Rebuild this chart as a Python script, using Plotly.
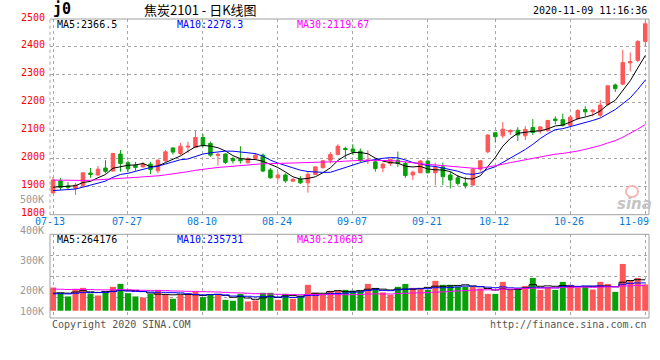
import plotly.graph_objects as go

# ---------------- data ----------------
dates = [
    "2020-07-13", "2020-07-14", "2020-07-15", "2020-07-16", "2020-07-17",
    "2020-07-20", "2020-07-21", "2020-07-22", "2020-07-23", "2020-07-24",
    "2020-07-27", "2020-07-28", "2020-07-29", "2020-07-30", "2020-07-31",
    "2020-08-03", "2020-08-04", "2020-08-05", "2020-08-06", "2020-08-07",
    "2020-08-10", "2020-08-11", "2020-08-12", "2020-08-13", "2020-08-14",
    "2020-08-17", "2020-08-18", "2020-08-19", "2020-08-20", "2020-08-21",
    "2020-08-24", "2020-08-25", "2020-08-26", "2020-08-27", "2020-08-28",
    "2020-08-31", "2020-09-01", "2020-09-02", "2020-09-03", "2020-09-04",
    "2020-09-07", "2020-09-08", "2020-09-09", "2020-09-10", "2020-09-11",
    "2020-09-14", "2020-09-15", "2020-09-16", "2020-09-17", "2020-09-18",
    "2020-09-21", "2020-09-22", "2020-09-23", "2020-09-24", "2020-09-25",
    "2020-09-28", "2020-09-29", "2020-09-30", "2020-10-09",
    "2020-10-12", "2020-10-13", "2020-10-14", "2020-10-15", "2020-10-16",
    "2020-10-19", "2020-10-20", "2020-10-21", "2020-10-22", "2020-10-23",
    "2020-10-26", "2020-10-27", "2020-10-28", "2020-10-29", "2020-10-30",
    "2020-11-02", "2020-11-03", "2020-11-04", "2020-11-05", "2020-11-06",
    "2020-11-09",
]

opens = [1878, 1921, 1903, 1894, 1905, 1949, 1942, 1967, 1956, 2017,
         1986, 1977, 1971, 1981, 1957, 1993, 2039, 2019, 2042, 2040,
         2076, 2055, 2012, 2017, 2001, 1998, 1986, 2001, 2013, 1960,
         1932, 1942, 1920, 1927, 1914, 1944, 1968, 1995, 2015, 2037,
         2035, 2027, 1992, 1989, 1967, 1983, 1995, 1983, 1942, 1950,
         1992, 1950, 1971, 1942, 1932, 1913, 1906, 1963, 2025, 2093,
         2082, 2096, 2102, 2082, 2112, 2100, 2101, 2142, 2140, 2120,
         2144, 2176, 2168, 2156, 2194, 2264, 2267, 2343, 2352, 2420]
highs = [1935, 1931, 1917, 1914, 1950, 1967, 1974, 1995, 2021, 2031,
         1993, 1989, 1989, 1989, 1998, 2031, 2040, 2057, 2061, 2102,
         2088, 2061, 2021, 2019, 2007, 2045, 2007, 2021, 2019, 1967,
         1954, 1948, 1930, 1938, 1954, 1973, 1995, 2024, 2052, 2043,
         2052, 2037, 2031, 1995, 1986, 2001, 2026, 1989, 1958, 1995,
         1995, 1986, 1986, 1954, 1942, 1936, 1968, 1995, 2087, 2096,
         2132, 2106, 2113, 2117, 2142, 2117, 2139, 2152, 2162, 2156,
         2177, 2188, 2177, 2210, 2263, 2269, 2390, 2380, 2424, 2492]
lows = [1876, 1888, 1888, 1871, 1900, 1932, 1938, 1948, 1954, 1954,
        1952, 1957, 1969, 1945, 1948, 1989, 2015, 2013, 2021, 2038,
        2040, 2007, 1976, 1981, 1983, 1983, 1983, 1995, 1952, 1929,
        1921, 1914, 1917, 1910, 1879, 1942, 1965, 1983, 2013, 2001,
        2013, 1988, 1981, 1954, 1952, 1974, 1971, 1932, 1924, 1948,
        1948, 1905, 1906, 1894, 1904, 1894, 1904, 1954, 2019, 2058,
        2073, 2085, 2063, 2067, 2085, 2090, 2096, 2123, 2115, 2115,
        2138, 2152, 2152, 2149, 2189, 2239, 2263, 2313, 2346, 2404]
closes = [1924, 1898, 1898, 1906, 1950, 1944, 1963, 1955, 2019, 1983,
          1964, 1969, 1981, 1962, 1995, 2025, 2024, 2045, 2045, 2076,
          2048, 2013, 2016, 1987, 1993, 1993, 2001, 2013, 1956, 1932,
          1942, 1921, 1927, 1914, 1945, 1971, 1993, 2015, 2045, 2033,
          2025, 1993, 1995, 1965, 1981, 1998, 1983, 1940, 1952, 1992,
          1950, 1969, 1936, 1924, 1912, 1904, 1963, 1993, 2085, 2079,
          2106, 2101, 2085, 2105, 2094, 2114, 2137, 2137, 2120, 2149,
          2173, 2168, 2174, 2192, 2261, 2251, 2344, 2348, 2420, 2483]
volumes = [198000, 153000, 122000, 187000, 195000, 147000, 130000, 158000, 204000, 229000,
           150000, 122000, 113000, 144000, 178000, 142000, 102000, 136000, 136000, 164000,
           116000, 139000, 142000, 93000, 85000, 144000, 79000, 88000, 153000, 153000,
           93000, 144000, 102000, 127000, 221000, 153000, 142000, 170000, 170000, 178000,
           170000, 170000, 229000, 195000, 156000, 136000, 204000, 229000, 195000, 190000,
           178000, 255000, 221000, 221000, 204000, 204000, 204000, 190000, 144000, 144000,
           246000, 178000, 195000, 212000, 280000, 178000, 195000, 178000, 246000, 221000,
           195000, 204000, 181000, 246000, 229000, 161000, 399000, 255000, 280000, 224000]

# moving-average levels before the first visible day
price_ma_seed = {5: 1892, 10: 1882, 30: 1924}
volume_ma_seed = {5: 138000, 10: 138000, 30: 184000}

tick_dates = ["2020-07-13", "2020-07-27", "2020-08-10", "2020-08-24", "2020-09-07",
              "2020-09-21", "2020-10-12", "2020-10-26", "2020-11-09"]
tick_labels = ["07-13", "07-27", "08-10", "08-24", "09-07", "09-21", "10-12", "10-26", "11-09"]
price_ticks = [1800, 1900, 2000, 2100, 2200, 2300, 2400, 2500]
volume_labels = ["500K", "400K", "300K", "200K", "100K"]

title_text = "焦炭2101 - 日K线图"
symbol_text = "j0"
time_text = "2020-11-09 11:16:36"
price_legend = ["MA5:2366.5", "MA10:2278.3", "MA30:2119.67"]
volume_legend = ["MA5:264176", "MA10:235731", "MA30:210603"]
footer_left = "Copyright 2020 SINA.COM"
footer_right = "http://finance.sina.com.cn"


def moving_avg(vals, n, seed):
    out = []
    for i in range(len(vals)):
        w = vals[max(0, i - n + 1): i + 1]
        out.append((sum(w) + (n - len(w)) * seed) / n)
    return out


# ---------------- style / layout ----------------
W, H = 660, 360
ML, MR, MT, MB = 50, 11, 19, 42
PW, PH = W - ML - MR, H - MT - MB
MONO = "DejaVu Sans Mono"
UP = "#ff5757"
DN = "#08a008"
MA_COLORS = {5: "#000000", 10: "#0000ff", 30: "#ff00ff"}
GRID = "#a8a8a8"
BORDER = "#a0a0a0"


def py(p):  # screen pixel y -> paper y
    return (H - MB - p) / PH


def px(p):  # screen pixel x -> paper x
    return (p - ML) / PW


price_dom = [py(214.7), 1.0]
vol_dom = [0.0, py(234.3)]

fig = go.Figure()

fig.add_trace(go.Candlestick(
    x=dates, open=opens, high=highs, low=lows, close=closes,
    increasing=dict(line=dict(color=UP, width=1), fillcolor=UP),
    decreasing=dict(line=dict(color=DN, width=1), fillcolor=DN),
    whiskerwidth=0, xaxis="x", yaxis="y", showlegend=False, hoverinfo="skip",
))
for n in (5, 10, 30):
    fig.add_trace(go.Scatter(
        x=dates, y=moving_avg(closes, n, price_ma_seed[n]), mode="lines",
        line=dict(color=MA_COLORS[n], width=1), xaxis="x", yaxis="y",
        showlegend=False, hoverinfo="skip",
    ))

bar_colors = [UP if c >= o else DN for o, c in zip(opens, closes)]
fig.add_trace(go.Bar(
    x=dates, y=volumes, marker=dict(color=bar_colors, line=dict(width=0)),
    xaxis="x2", yaxis="y2", showlegend=False, hoverinfo="skip",
))
for n in (5, 10, 30):
    fig.add_trace(go.Scatter(
        x=dates, y=moving_avg(volumes, n, volume_ma_seed[n]), mode="lines",
        line=dict(color=MA_COLORS[n], width=1, shape="hvh"), xaxis="x2", yaxis="y2",
        showlegend=False, hoverinfo="skip",
    ))

vol_lo, vol_hi = -62000, 652000
common_x = dict(type="category", range=[-0.4, 79.5], tickvals=tick_dates,
                showticklabels=False, showgrid=True, gridcolor=GRID, griddash="dot",
                gridwidth=1, zeroline=False, showline=False, ticks="",
                categoryorder="array", categoryarray=dates)

fig.update_layout(
    width=W, height=H,
    margin=dict(l=ML, r=MR, t=MT, b=MB),
    paper_bgcolor="white", plot_bgcolor="white",
    showlegend=False, boxgap=0.33, bargap=0.2,
    font=dict(family=MONO, size=10, color="#000"),
    xaxis=dict(domain=[0, 1], anchor="y", rangeslider=dict(visible=False), **common_x),
    xaxis2=dict(domain=[0, 1], anchor="y2", matches="x", **common_x),
    yaxis=dict(domain=price_dom, range=[1800, 2500], tickvals=price_ticks,
               ticktext=[str(v) for v in price_ticks],
               tickfont=dict(family=MONO, size=10, color="#ff0000"),
               showgrid=True, gridcolor=GRID, griddash="dot", gridwidth=1,
               zeroline=False, showline=False, ticks="", ticklabelstandoff=4,
               ticklabelshift=-2),
    yaxis2=dict(domain=vol_dom, range=[vol_lo, vol_hi], tick0=vol_lo,
                dtick=(vol_hi - vol_lo) / 4, showticklabels=False,
                showgrid=True, gridcolor=GRID, griddash="dot", gridwidth=1,
                zeroline=False, showline=False, ticks=""),
)

shapes = []
# price panel borders: top, right, bottom solid; left dotted
for x0, y0, x1, y1, dash in [(0, 1, 1, 1, "solid"), (1, 0, 1, 1, "solid"),
                              (0, 0, 1, 0, "solid"), (0, 0, 0, 1, "dot")]:
    shapes.append(dict(type="line", xref="x domain", yref="y domain",
                       x0=x0, y0=y0, x1=x1, y1=y1,
                       line=dict(color=BORDER if dash == "solid" else GRID, width=1, dash=dash)))
shapes.append(dict(type="rect", xref="x2 domain", yref="y2 domain", x0=0, y0=0, x1=1, y1=1,
                   line=dict(color=BORDER, width=1)))
# sina watermark eye
shapes.append(dict(type="circle", xref="paper", yref="paper",
                   x0=px(626), x1=px(638), y0=py(197), y1=py(186),
                   line=dict(color="#f3a9a9", width=2), opacity=0.8))
fig.update_layout(shapes=shapes)

ann = []
# header
ann.append(dict(text="<b>" + symbol_text + "</b>", x=px(51), y=py(9), xref="paper", yref="paper",
                xanchor="left", yanchor="middle", showarrow=False,
                font=dict(family=MONO, size=15, color="#000")))
ann.append(dict(text=title_text, x=px(200), y=py(9), xref="paper", yref="paper",
                xanchor="center", yanchor="middle", showarrow=False,
                font=dict(family="Noto Sans CJK SC", size=13, color="#000")))
ann.append(dict(text=time_text, x=1, y=py(10), xref="paper", yref="paper",
                xanchor="right", yanchor="middle", showarrow=False,
                font=dict(family=MONO, size=10, color="#000")))
# MA legends
leg_x = [55, 175, 295]
leg_c = [MA_COLORS[5], MA_COLORS[10], MA_COLORS[30]]
for t, xx, c in zip(price_legend, leg_x, leg_c):
    ann.append(dict(text=t, x=px(xx), y=py(24.5), xref="paper", yref="paper",
                    xanchor="left", yanchor="middle", showarrow=False,
                    font=dict(family=MONO, size=10, color=c)))
for t, xx, c in zip(volume_legend, leg_x, leg_c):
    ann.append(dict(text=t, x=px(xx), y=py(239.5), xref="paper", yref="paper",
                    xanchor="left", yanchor="middle", showarrow=False,
                    font=dict(family=MONO, size=10, color=c)))
# date labels
for i, (d, lab) in enumerate(zip(tick_dates, tick_labels)):
    last = i == len(tick_dates) - 1
    ann.append(dict(text=lab, x=d, xref="x", y=py(221), yref="paper",
                    xanchor="right" if last else "center", yanchor="middle",
                    xshift=6 if last else (-3 if i == 0 else -1), showarrow=False,
                    font=dict(family=MONO, size=10, color="#0a78d6")))
# volume axis labels (drawn at fixed rows in the left margin)
vol_label_rows = [199, 230, 260, 290.3, 311]
for lab, yy in zip(volume_labels, vol_label_rows):
    ann.append(dict(text=lab, x=0, xref="paper", y=py(yy), yref="paper",
                    xanchor="right", yanchor="middle", xshift=-4, showarrow=False,
                    font=dict(family=MONO, size=10, color="#999999")))
# footer
ann.append(dict(text=footer_left, x=0, y=py(324), xref="paper", yref="paper",
                xanchor="left", yanchor="middle", showarrow=False,
                font=dict(family=MONO, size=10, color="#555555")))
ann.append(dict(text=footer_right, x=1, y=py(324), xref="paper", yref="paper",
                xanchor="right", yanchor="middle", showarrow=False,
                font=dict(family=MONO, size=10, color="#555555")))
# watermark text
ann.append(dict(text="<b><i>sina</i></b>", x=px(634), y=py(204), xref="paper", yref="paper",
                xanchor="center", yanchor="middle", showarrow=False,
                font=dict(family="DejaVu Sans", size=15, color="#c4c4c4")))
fig.update_layout(annotations=ann)

# remove the page's default body margin so the figure fills the window exactly
fig.write_html("out.html", config={"displayModeBar": False},
               post_script="document.body.style.margin='0';document.body.style.overflow='hidden';")
